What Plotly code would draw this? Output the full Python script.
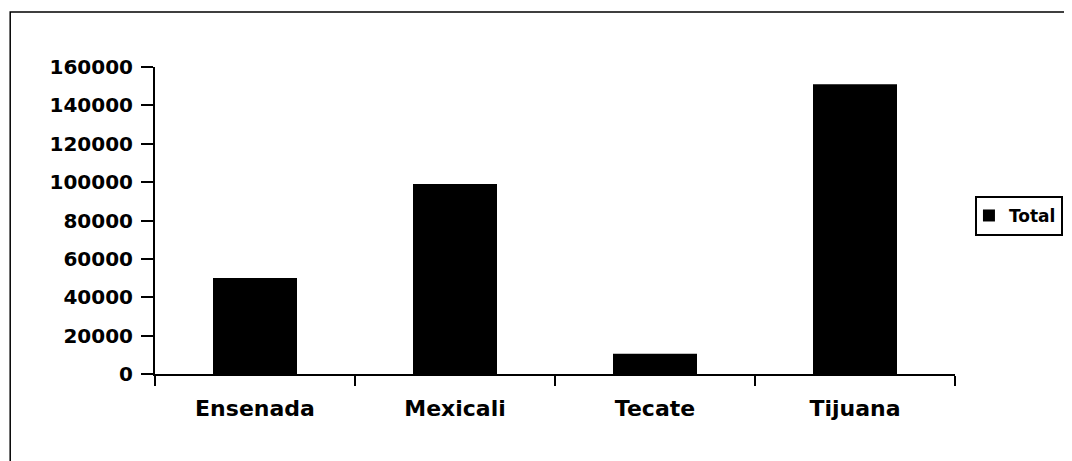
import plotly.graph_objects as go

categories = ["Ensenada", "Mexicali", "Tecate", "Tijuana"]
totals = [50000, 99000, 10500, 151000]
y_ticks = [0, 20000, 40000, 60000, 80000, 100000, 120000, 140000, 160000]

font = dict(family="DejaVu Sans", size=20, color="black", weight="bold")
xfont = dict(family="DejaVu Sans", size=22, color="black", weight="bold")

fig = go.Figure()
fig.add_trace(go.Bar(x=categories, y=totals, name="Total",
                     marker=dict(color="black", line=dict(width=0)),
                     showlegend=True))

fig.update_layout(
    width=1064, height=453,
    margin=dict(l=147, r=117, t=59, b=87, autoexpand=False),
    paper_bgcolor="white", plot_bgcolor="white",
    bargap=0.58,
    font=font,
    showlegend=True,
    legend=dict(xref="container", yref="container",
                x=0.9915, y=0.541, xanchor="right", yanchor="middle",
                bordercolor="black", borderwidth=2, bgcolor="white",
                font=dict(family="DejaVu Sans", size=17, color="black", weight="bold"),
                itemwidth=30, tracegroupgap=0,
                indentation=-8),
    xaxis=dict(showline=True, linecolor="black", linewidth=2,
               ticks="outside", ticklen=10, tickwidth=2, tickcolor="black",
               tickson="boundaries", showgrid=False, zeroline=False,
               ticklabelstandoff=14, tickfont=xfont),
    yaxis=dict(range=[0, 160000], tickvals=y_ticks,
               tickformat="d",
               showline=True, linecolor="black", linewidth=2,
               ticks="outside", ticklen=12, tickwidth=2, tickcolor="black",
               ticklabelstandoff=4,
               showgrid=False, zeroline=False, tickfont=font),
    shapes=[dict(type="rect", xref="paper", yref="paper",
                 x0=-0.181, x1=1.3, y0=-0.5, y1=1.179,
                 line=dict(color="black", width=1.5), layer="below")],
)

fig.write_html("out.html")
